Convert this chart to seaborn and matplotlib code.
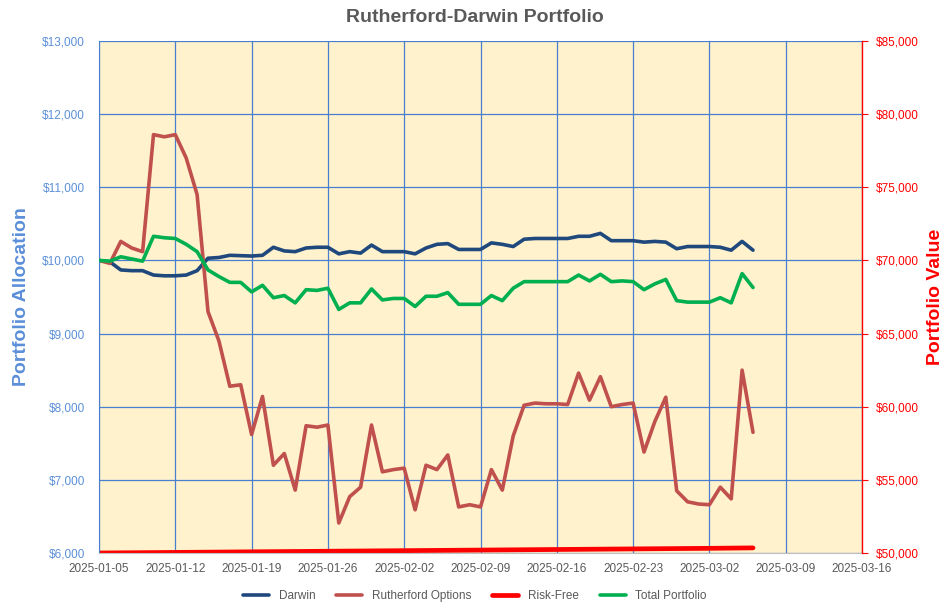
import matplotlib
matplotlib.use("Agg")
import matplotlib.pyplot as plt
import matplotlib.dates as mdates
import matplotlib.ticker as mticker
import seaborn as sns
import pandas as pd
import numpy as np

# ---------------- data ----------------
start_date = "2025-01-05"
n_days = 61

darwin = [10000, 9980, 9870, 9860, 9860, 9800, 9790, 9790, 9800, 9860,
          10030, 10040, 10070, 10065, 10060, 10070, 10180, 10130, 10120, 10170,
          10180, 10180, 10090, 10120, 10100, 10210, 10120, 10120, 10120, 10090,
          10170, 10220, 10230, 10150, 10150, 10150, 10240, 10220, 10190, 10290,
          10300, 10300, 10300, 10300, 10330, 10330, 10370, 10270, 10270, 10270,
          10250, 10260, 10250, 10160, 10190, 10190, 10190, 10180, 10140, 10260,
          10140]

rutherford = [10000, 9960, 10260, 10170, 10120, 11720, 11690, 11720, 11400, 10900,
              9300, 8900, 8280, 8300, 7620, 8140, 7200, 7360, 6860, 7740,
              7720, 7750, 6410, 6770, 6900, 7750, 7110, 7140, 7160, 6590,
              7200, 7140, 7340, 6630, 6660, 6630, 7140, 6860, 7600, 8020,
              8050, 8040, 8040, 8030, 8460, 8090, 8410, 8000, 8030, 8050,
              7380, 7800, 8130, 6850, 6700, 6670, 6660, 6900, 6740, 8500,
              7650]

total = [70000, 69950, 70250, 70100, 69950, 71650, 71550, 71500, 71100, 70600,
         69350, 68900, 68500, 68500, 67850, 68300, 67450, 67600, 67100, 68000,
         67950, 68100, 66650, 67100, 67100, 68050, 67300, 67400, 67400, 66850,
         67550, 67550, 67800, 67000, 67000, 67000, 67600, 67250, 68100, 68550,
         68550, 68550, 68550, 68550, 69000, 68600, 69050, 68550, 68600, 68550,
         68000, 68400, 68700, 67250, 67150, 67150, 67150, 67450, 67100, 69100,
         68150]

rf_dates = ["2025-01-05", "2025-01-12", "2025-01-19", "2025-01-26", "2025-02-02",
            "2025-02-09", "2025-02-16", "2025-02-23", "2025-03-02", "2025-03-06"]
risk_free = [6000, 6008, 6016, 6024, 6032, 6040, 6048, 6056, 6064, 6070]

tick_dates = ["2025-01-05", "2025-01-12", "2025-01-19", "2025-01-26", "2025-02-02",
              "2025-02-09", "2025-02-16", "2025-02-23", "2025-03-02", "2025-03-09",
              "2025-03-16"]

# --------------- frames ----------------
dates = pd.date_range(start_date, periods=n_days, freq="D")
df = pd.DataFrame({"date": dates, "Darwin": darwin,
                   "Rutherford Options": rutherford, "Total Portfolio": total})
df_rf = pd.DataFrame({"date": pd.to_datetime(rf_dates), "Risk-Free": risk_free})

# --------------- style -----------------
sns.set_style("white")
plt.rcParams["font.family"] = ["Liberation Sans", "DejaVu Sans"]

BG = "#FFF2CC"
GRID = "#4A7FD0"
BLUE_TXT = "#5B8FD8"
RED = "#FF0000"
GRAY = "#595959"

fig = plt.figure(figsize=(9.5, 6.1), dpi=100)
ax = fig.add_axes([99/950, 1-553/610, (862-99)/950, (553-41)/610])
ax2 = ax.twinx()

ax.set_facecolor(BG)
ax.set_zorder(1)
ax2.set_zorder(2)
ax2.patch.set_visible(False)

lw = 2.6
sns.lineplot(data=df, x="date", y="Darwin", ax=ax, color="#1F497D", lw=lw,
             label="Darwin", legend=False)
sns.lineplot(data=df, x="date", y="Rutherford Options", ax=ax, color="#C0504D", lw=lw,
             label="Rutherford Options", legend=False)
sns.lineplot(data=df_rf, x="date", y="Risk-Free", ax=ax, color="#FF0000", lw=3.4,
             label="Risk-Free", legend=False)
sns.lineplot(data=df, x="date", y="Total Portfolio", ax=ax2, color="#00B050", lw=lw,
             label="Total Portfolio", legend=False)

for a in (ax, ax2):
    for ln in a.lines:
        ln.set_solid_joinstyle("round")
        ln.set_solid_capstyle("round")

# axes limits and ticks
ax.set_xlim(pd.Timestamp(tick_dates[0]), pd.Timestamp(tick_dates[-1]))
ax.set_xticks(pd.to_datetime(tick_dates))
ax.xaxis.set_major_formatter(mdates.DateFormatter("%Y-%m-%d"))
ax.set_ylim(6000, 13000)
ax.set_yticks(np.arange(6000, 13001, 1000))
ax2.set_ylim(50000, 85000)
ax2.set_yticks(np.arange(50000, 85001, 5000))

money = mticker.FuncFormatter(lambda v, p: f"${v:,.0f}")
ax.yaxis.set_major_formatter(money)
ax2.yaxis.set_major_formatter(money)

ax.grid(True, color=GRID, lw=0.9)
ax.tick_params(axis="x", colors=GRAY, labelsize=8.5, length=0, pad=7)
ax.tick_params(axis="y", colors=BLUE_TXT, labelsize=8.5, length=0, pad=10)
ax2.tick_params(axis="y", colors=RED, labelsize=8.5, length=4, direction="out", pad=6)
for lab in ax.get_xticklabels():
    lab.set_color(GRAY)

for s in ("top",):
    ax.spines[s].set_visible(False)
    ax2.spines[s].set_visible(False)
ax.spines["left"].set_color(GRID)
ax.spines["bottom"].set_color("#BFBFBF")
ax.spines["right"].set_visible(False)
ax2.spines["left"].set_visible(False)
ax2.spines["bottom"].set_visible(False)
ax2.spines["right"].set_color(RED)
ax2.spines["right"].set_linewidth(1.0)

ax.set_xlabel("")
ax.set_ylabel("")
ax2.set_ylabel("")
fig.text(22/950, 1-297/610, "Portfolio Allocation", rotation=90, ha="center",
         va="center", color=BLUE_TXT, fontsize=14, fontweight="bold")
fig.text(936/950, 1-297/610, "Portfolio Value", rotation=90, ha="center",
         va="center", color=RED, fontsize=14, fontweight="bold")

fig.text(0.5, 1-18/610, "Rutherford-Darwin Portfolio", ha="center", va="center",
         fontsize=14, fontweight="bold", color=GRAY)

handles = ax.get_lines() + ax2.get_lines()
labels = [h.get_label() for h in handles]
order = ["Darwin", "Rutherford Options", "Risk-Free", "Total Portfolio"]
hmap = dict(zip(labels, handles))
fig.legend([hmap[o] for o in order], order, loc="center",
           bbox_to_anchor=(0.5, 1-596/610), ncol=4, frameon=False,
           fontsize=8.5, handlelength=2.2, columnspacing=1.8, labelcolor=GRAY)

fig.savefig("out.png", dpi=100)
